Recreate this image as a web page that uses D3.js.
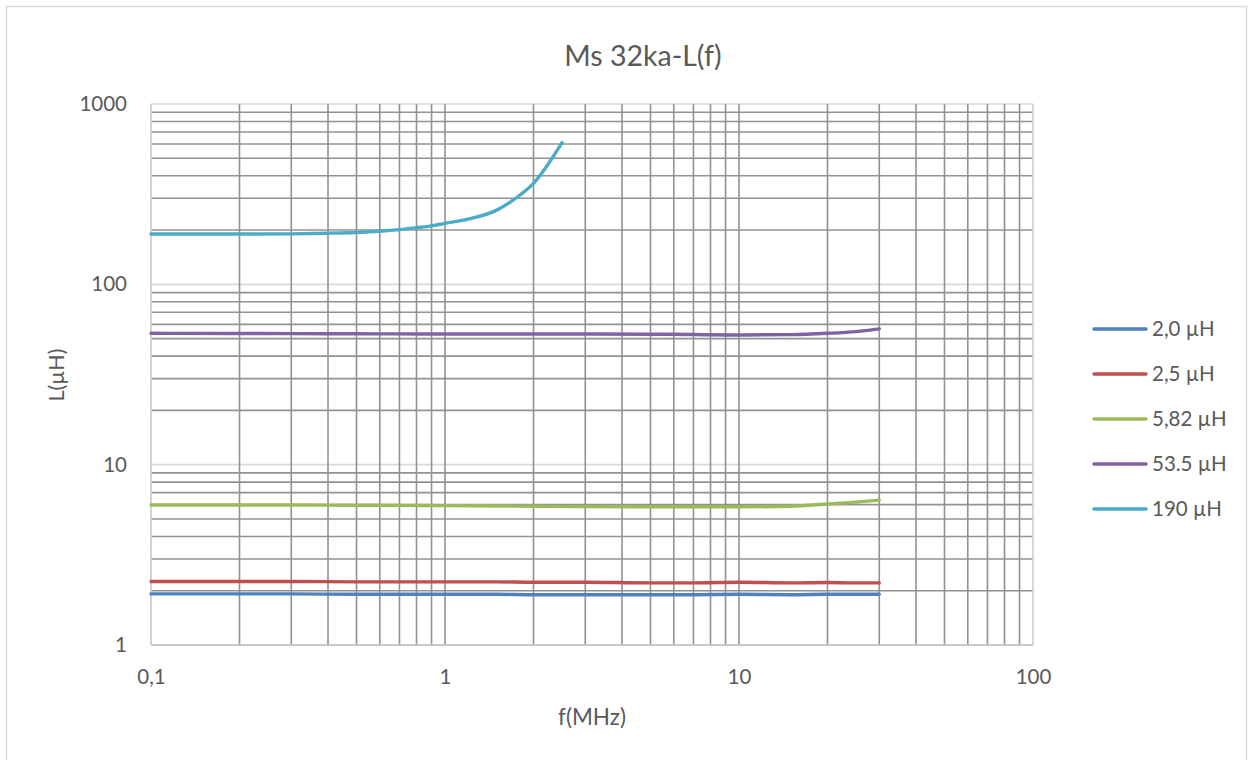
<!DOCTYPE html>
<html>
<head>
<meta charset="utf-8">
<script src="https://cdn.jsdelivr.net/npm/d3@7"></script>
<style>
  html, body { margin: 0; padding: 0; background: #fff; }
  svg { display: block; font-family: Lato, "Open Sans", "Liberation Sans", sans-serif; }
</style>
</head>
<body>
<svg id="chart" width="1253" height="760"></svg>
<script>
// Inductance vs frequency, log-log, five coils
const chartTitle = "Ms 32ka-L(f)";
const xTitle = "f(MHz)";
const yTitle = "L(µH)";

const xTickValues = [0.1, 1, 10, 100];
const xTickLabels = ["0,1", "1", "10", "100"];
const yTickValues = [1, 10, 100, 1000];
const yTickLabels = ["1", "10", "100", "1000"];

const seriesNames = ["2,0 µH", "2,5 µH", "5,82 µH", "53.5 µH", "190 µH"];
const seriesColors = ["#4F81BD", "#C0504D", "#9BBB59", "#8064A2", "#4BACC6"];

// frequency points (MHz) for the four flat curves
const freqFlat = [0.1, 0.2, 0.3, 0.5, 0.7, 1, 1.5, 2, 3, 5, 7, 10, 15, 20, 25, 30];
const l20  = [1.92, 1.92, 1.92, 1.91, 1.91, 1.91, 1.91, 1.90, 1.90, 1.90, 1.90, 1.91, 1.90, 1.91, 1.91, 1.91];
const l25  = [2.25, 2.25, 2.25, 2.24, 2.24, 2.24, 2.24, 2.23, 2.23, 2.21, 2.21, 2.23, 2.21, 2.22, 2.21, 2.21];
const l582 = [5.98, 5.98, 5.97, 5.96, 5.95, 5.93, 5.90, 5.88, 5.85, 5.84, 5.84, 5.84, 5.88, 6.05, 6.20, 6.36];
const l535 = [53.5, 53.4, 53.3, 53.2, 53.1, 53.0, 53.0, 53.0, 53.0, 52.9, 52.7, 52.4, 52.6, 53.5, 54.7, 56.6];
// the 190 µH coil, measured up to 2.5 MHz
const freq190 = [0.1, 0.2, 0.3, 0.4, 0.5, 0.6, 0.7, 0.8, 0.9, 1, 1.2, 1.5, 1.8, 2, 2.5];
const l190 = [190, 190, 190.5, 192, 194, 197, 201, 206, 211, 218, 230, 258, 313, 363, 610];

const seriesX = [freqFlat, freqFlat, freqFlat, freqFlat, freq190];
const seriesY = [l20, l25, l582, l535, l190];

const textColor = "#595959";
const svg = d3.select("#chart");

// chart frame
svg.append("rect")
  .attr("x", 6.5).attr("y", 6.5)
  .attr("width", 1240).attr("height", 770)
  .attr("fill", "#fff").attr("stroke", "#d9d9d9").attr("stroke-width", 1.5);

const plot = { left: 151, right: 1033, top: 104, bottom: 645 };

const x = d3.scaleLog().domain([0.1, 100]).range([plot.left, plot.right]);
const y = d3.scaleLog().domain([1, 1000]).range([plot.bottom, plot.top]);

// minor values inside each decade
function minorValues(lo, hi) {
  const out = [];
  for (let d = lo; d < hi; d *= 10) {
    for (let k = 2; k <= 9; k++) out.push(+(k * d).toPrecision(3));
  }
  return out;
}
const grid = svg.append("g");
const minorColor = "#929292";
const minorWidth = 1.6;

// horizontal decade lines (light)
grid.selectAll("line.hmaj").data(yTickValues).join("line")
  .attr("x1", plot.left).attr("x2", plot.right)
  .attr("y1", d => y(d)).attr("y2", d => y(d))
  .attr("stroke", "#d9d9d9").attr("stroke-width", 1.6);

// horizontal minor lines
grid.selectAll("line.hmin").data(minorValues(1, 1000)).join("line")
  .attr("x1", plot.left).attr("x2", plot.right)
  .attr("y1", d => y(d)).attr("y2", d => y(d))
  .attr("stroke", minorColor).attr("stroke-width", minorWidth);

// vertical lines: minor plus the inner decades
const vLines = minorValues(0.1, 100).concat([1, 10]);
grid.selectAll("line.v").data(vLines).join("line")
  .attr("x1", d => x(d)).attr("x2", d => x(d))
  .attr("y1", plot.top).attr("y2", plot.bottom)
  .attr("stroke", minorColor).attr("stroke-width", minorWidth);

// axis edges
grid.append("line")
  .attr("x1", plot.left).attr("x2", plot.left)
  .attr("y1", plot.top).attr("y2", plot.bottom)
  .attr("stroke", "#c8c8c8").attr("stroke-width", 1.6);
grid.append("line")
  .attr("x1", plot.right).attr("x2", plot.right)
  .attr("y1", plot.top).attr("y2", plot.bottom)
  .attr("stroke", "#d0d0d0").attr("stroke-width", 1.6);
grid.append("line")
  .attr("x1", plot.left).attr("x2", plot.right)
  .attr("y1", plot.bottom).attr("y2", plot.bottom)
  .attr("stroke", "#c0c0c0").attr("stroke-width", 1.6);

// tick labels via axes
const xAxis = d3.axisBottom(x).tickValues(xTickValues)
  .tickFormat((d, i) => xTickLabels[i]).tickSize(0).tickPadding(24);
const gx = svg.append("g").attr("transform", `translate(0,${plot.bottom})`).call(xAxis);
gx.select(".domain").remove();
gx.selectAll("text").attr("fill", textColor).style("font-size", "20.5px")
  .style("font-family", "Lato, 'Open Sans', sans-serif");

const yAxis = d3.axisLeft(y).tickValues(yTickValues)
  .tickFormat((d, i) => yTickLabels[i]).tickSize(0).tickPadding(24);
const gy = svg.append("g").attr("transform", `translate(${plot.left},0)`).call(yAxis);
gy.select(".domain").remove();
gy.selectAll("text").attr("fill", textColor).style("font-size", "20.5px")
  .style("font-family", "Lato, 'Open Sans', sans-serif");

// series curves
const line = d3.line()
  .x(d => x(d[0])).y(d => y(d[1]))
  .curve(d3.curveMonotoneX);

const seriesG = svg.append("g");
seriesNames.forEach((name, i) => {
  const pts = seriesX[i].map((f, j) => [f, seriesY[i][j]]);
  seriesG.append("path")
    .datum(pts)
    .attr("d", line)
    .attr("fill", "none")
    .attr("stroke", seriesColors[i])
    .attr("stroke-width", 3.4)
    .attr("stroke-linecap", "round")
    .attr("stroke-linejoin", "round");
});

// title and axis titles
svg.append("text")
  .attr("x", 643).attr("y", 66)
  .attr("text-anchor", "middle")
  .attr("fill", textColor)
  .style("font-size", "28.5px")
  .text(chartTitle);

svg.append("text")
  .attr("x", 592).attr("y", 725)
  .attr("text-anchor", "middle")
  .attr("fill", textColor)
  .style("font-size", "22.5px")
  .text(xTitle);

svg.append("text")
  .attr("transform", "translate(64,375) rotate(-90)")
  .attr("text-anchor", "middle")
  .attr("fill", textColor)
  .style("font-size", "21.5px")
  .text(yTitle);

// legend
const legend = svg.append("g");
seriesNames.forEach((name, i) => {
  const ly = 329 + i * 45;
  legend.append("line")
    .attr("x1", 1094).attr("x2", 1146)
    .attr("y1", ly).attr("y2", ly)
    .attr("stroke", seriesColors[i])
    .attr("stroke-width", 3.4)
    .attr("stroke-linecap", "round");
  legend.append("text")
    .attr("x", 1152).attr("y", ly + 7)
    .attr("fill", textColor)
    .style("font-size", "20.5px")
    .text(name);
});
</script>
</body>
</html>
